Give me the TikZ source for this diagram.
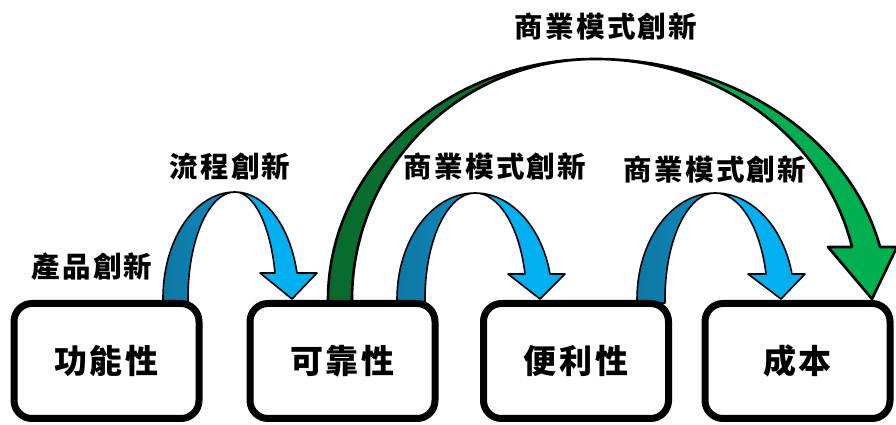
\documentclass[tikz,border=0pt]{standalone}
\usepackage{fontspec}
\newfontfamily\cjk{Noto Sans CJK TC}
\definecolor{bluedark}{RGB}{16,140,192}
\definecolor{bluelight}{RGB}{0,176,240}
\definecolor{greendark}{RGB}{10,125,55}
\definecolor{greenlight}{RGB}{0,176,80}
\begin{document}
\begin{tikzpicture}[x=1pt,y=1pt,
  band/.style={draw=black, line width=1.6pt, line join=round},
  gband/.style={draw=black, line width=2.6pt, line join=round},
  box/.style={draw=black, line width=7pt, rounded corners=18pt, minimum width=185pt, minimum height=115pt, fill=white, inner sep=0pt,
    font=\cjk\bfseries\fontsize{33}{33}\selectfont\addfontfeature{LetterSpace=9}},
  lbl/.style={inner sep=0pt, font=\cjk\bfseries\fontsize{28.5}{28.5}\selectfont\addfontfeature{LetterSpace=8}}]
\useasboundingbox (0,0) rectangle (896,425);

% green long arrow
\shadedraw[gband, left color=greendark!85!black, right color=greendark] (328,121) -- (328,125)
  arc[start angle=180, end angle=90, x radius=267, y radius=241]
  arc[start angle=90, end angle=180, x radius=243, y radius=241] -- (352,121) -- cycle;
\filldraw[gband, fill=greenlight] (595,366)
  arc[start angle=90, end angle=12.70, x radius=292.2, y radius=241]
  -- (897,178) -- (872,126) -- (828,178) -- (852,178)
  arc[start angle=12.70, end angle=90, x radius=263.5, y radius=241] -- cycle;

% blue arrow 1
\shadedraw[band, left color=bluedark!85!black, right color=bluedark] (163,122) -- (163,127)
  arc[start angle=180, end angle=90, x radius=72, y radius=106]
  arc[start angle=90, end angle=180, x radius=47, y radius=106] -- (188,122) -- cycle;
\filldraw[band, fill=bluelight] (235,233)
  arc[start angle=90, end angle=13.64, x radius=63.8, y radius=106]
  -- (317,152) -- (292,126) -- (260,152) -- (275,152)
  arc[start angle=13.64, end angle=90, x radius=41.2, y radius=106] -- cycle;

% blue arrow 2
\shadedraw[band, left color=bluedark!85!black, right color=bluedark] (397,122) -- (397,126)
  arc[start angle=180, end angle=90, x radius=78, y radius=106]
  arc[start angle=90, end angle=180, x radius=50, y radius=106] -- (425,122) -- cycle;
\filldraw[band, fill=bluelight] (475,232)
  arc[start angle=90, end angle=13.64, x radius=77.2, y radius=106]
  -- (565,151) -- (540,126) -- (508,151) -- (525,151)
  arc[start angle=13.64, end angle=90, x radius=51.5, y radius=106] -- cycle;

% blue arrow 3
\shadedraw[band, left color=bluedark!85!black, right color=bluedark] (637,122) -- (637,126)
  arc[start angle=180, end angle=90, x radius=78, y radius=106]
  arc[start angle=90, end angle=180, x radius=50, y radius=106] -- (665,122) -- cycle;
\filldraw[band, fill=bluelight] (715,232)
  arc[start angle=90, end angle=13.64, x radius=79.2, y radius=106]
  -- (805,151) -- (781,126) -- (748,151) -- (766,151)
  arc[start angle=13.64, end angle=90, x radius=52.5, y radius=106] -- cycle;

% boxes
\node[box] (b1) at (106.5,64) {功能性};
\node[box] (b2) at (342.5,64) {可靠性};
\node[box] (b3) at (576,64) {便利性};
\node[box] (b4) at (797.5,64) {成本};

% labels
\node[lbl] (l0) at (92,158) {產品創新};
\node[lbl] (l1) at (230,258) {流程創新};
\node[lbl] (l2) at (495,258) {商業模式創新};
\node[lbl] (l3) at (715,255) {商業模式創新};
\node[lbl] (l4) at (606,398) {商業模式創新};
\end{tikzpicture}
\end{document}
